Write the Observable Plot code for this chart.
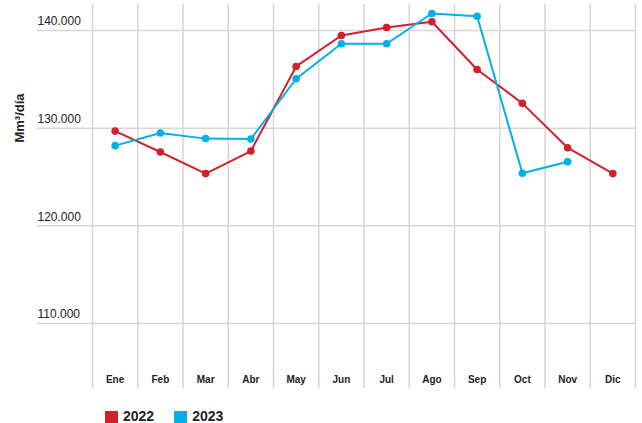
<!DOCTYPE html>
<html>
<head>
<meta charset="utf-8">
<script src="https://cdn.jsdelivr.net/npm/d3@7"></script>
<script src="https://cdn.jsdelivr.net/npm/@observablehq/plot@0.6"></script>
<style>
  html, body { margin: 0; padding: 0; background: #fff; overflow: hidden; }
  #chart { position: relative; width: 642px; height: 423px; font-family: "Liberation Sans", Arial, sans-serif; }
  #chart svg { display: block; }
  .legend { position: absolute; left: 105px; top: 410px; display: flex; align-items: center; font-weight: bold; font-size: 14px; line-height: 13px; color: #222; }
  .legend .sw { width: 13px; height: 12px; display: inline-block; margin-right: 5px; }
  .legend .item { display: flex; align-items: center; margin-right: 20px; }
</style>
</head>
<body>
<div id="chart"></div>
<script>
const months = ["Ene","Feb","Mar","Abr","May","Jun","Jul","Ago","Sep","Oct","Nov","Dic"];
const values2022 = [129700, 127560, 125350, 127660, 136320, 139490, 140310, 140890, 136010, 132540, 128000, 125350];
const values2023 = [128210, 129500, 128930, 128890, 135060, 138640, 138640, 141740, 141460, 125380, 126570];
const yTicks = [110000, 120000, 130000, 140000];
const series = ["2022", "2023"];
const colors = ["#d3212c", "#00b1e7"];

const data = [
  ...values2022.map((v, i) => ({serie: "2022", i, v})),
  ...values2023.map((v, i) => ({serie: "2023", i, v}))
];
const bounds = d3.range(months.length + 1).map(k => k - 0.5);
const fmt = d => d3.format(",")(d).replace(/,/g, ".");

const plot = Plot.plot({
  width: 642,
  height: 395,
  marginLeft: 37,
  marginRight: 7,
  marginTop: 4,
  marginBottom: 7,
  x: {domain: [-0.5, months.length - 0.5], range: [92, 635], axis: null},
  y: {domain: [103350, 142660], axis: null},
  color: {domain: series, range: colors},
  style: {fontFamily: "Liberation Sans, Arial, sans-serif"},
  marks: [
    Plot.ruleY(yTicks, {stroke: "#d6d6d6", strokeWidth: 1.5}),
    Plot.ruleX(bounds, {stroke: "#d6d6d6", strokeWidth: 1.5}),
    Plot.text(yTicks, {y: d => d, text: fmt, frameAnchor: "left", textAnchor: "start", dy: -9, fontSize: 12, fill: "#222"}),
    Plot.axisX(d3.range(months.length), {tickSize: 0, tickFormat: i => months[i], label: null, dy: -16, fontSize: 10, fontWeight: "bold", fill: "#222", tickPadding: 3}),
    Plot.line(data, {x: "i", y: "v", z: "serie", stroke: "serie", strokeWidth: 2}),
    Plot.dot(data, {x: "i", y: "v", fill: "serie", r: 3.8})
  ]
});
document.getElementById("chart").appendChild(plot);

// y-axis title
const svg = d3.select(plot);
svg.append("text")
  .attr("transform", "translate(24,118) rotate(-90)")
  .attr("text-anchor", "middle")
  .attr("font-size", 13)
  .attr("font-weight", "bold")
  .attr("fill", "#222")
  .text("Mm³/día");

const legend = document.createElement("div");
legend.className = "legend";
series.forEach((s, k) => {
  const it = document.createElement("div");
  it.className = "item";
  it.innerHTML = `<span class="sw" style="background:${colors[k]}"></span><span>${s}</span>`;
  legend.appendChild(it);
});
document.getElementById("chart").appendChild(legend);
</script>
</body>
</html>
